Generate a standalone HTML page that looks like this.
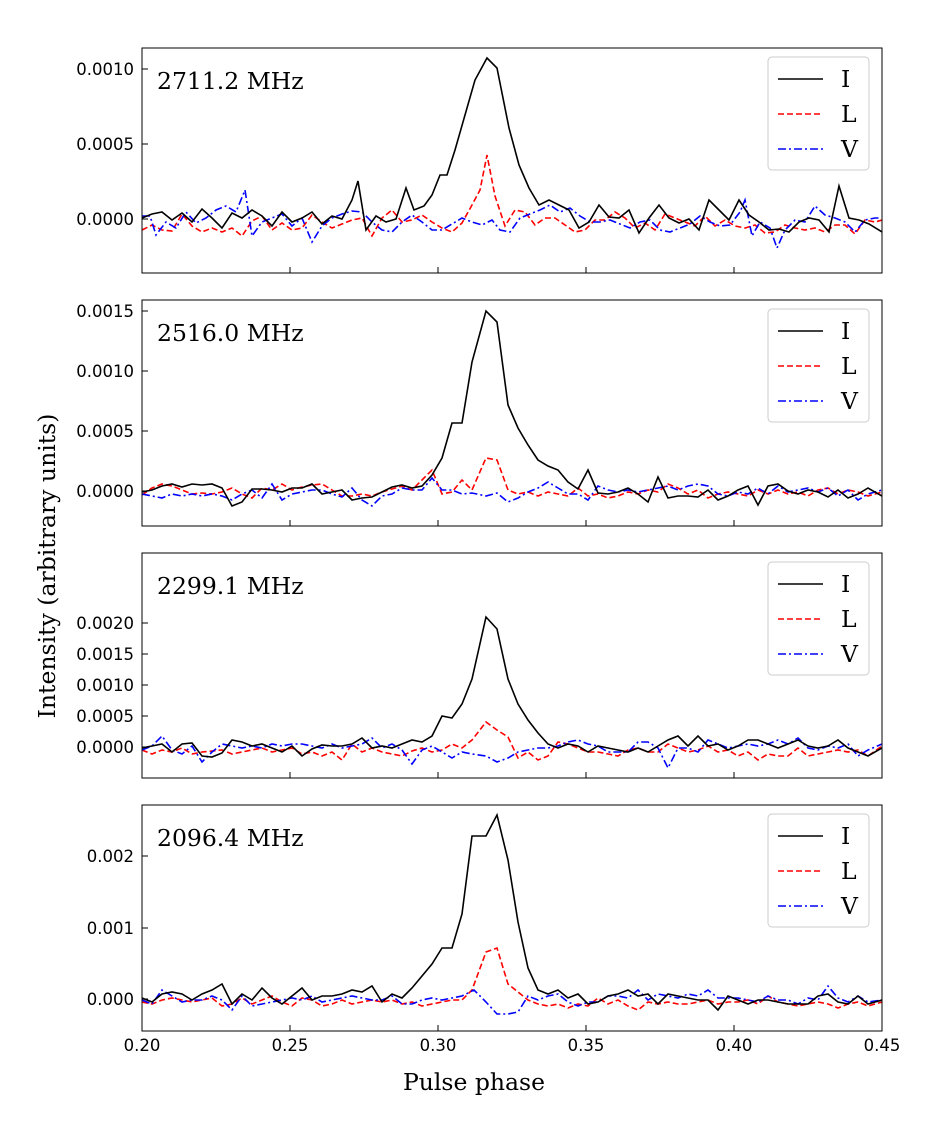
<!DOCTYPE html>
<html><head><meta charset="utf-8">
<style>
html,body{margin:0;padding:0;background:#fff;}
svg{display:block;}
.tk{font-family:"DejaVu Sans","Liberation Sans",sans-serif;font-size:16.5px;fill:#000;}
.sf{font-family:"DejaVu Serif","Liberation Serif",serif;fill:#000;font-size:23.5px;}
.I{fill:none;stroke:#000;stroke-width:1.6;}
.L{fill:none;stroke:#f00;stroke-width:1.6;stroke-dasharray:6,3;}
.V{fill:none;stroke:#00f;stroke-width:1.6;stroke-dasharray:8,3,2,3;}
.ax{fill:none;stroke:#000;stroke-width:1;}
.lg{fill:#fff;stroke:#ccc;stroke-width:1;}
</style></head><body>
<svg width="947" height="1136" xmlns="http://www.w3.org/2000/svg">
<defs>
<clipPath id="c1"><rect x="142" y="48" width="740" height="225"/></clipPath>
<clipPath id="c2"><rect x="142" y="300" width="740" height="226"/></clipPath>
<clipPath id="c3"><rect x="142" y="553" width="740" height="225"/></clipPath>
<clipPath id="c4"><rect x="142" y="805" width="740" height="226"/></clipPath>
</defs>

<!-- Panel 1 -->
<g clip-path="url(#c1)">
<polyline class="L" points="142,230 152,225 162,230 172,231 182,214 192,226 202,232 212,228 222,232 232,228 242,236 252,221 262,216 272,230 282,223 292,230 302,228 312,215 322,222 332,228 342,224 352,220 362,218 372,236 382,218 392,210 402,222 412,220 422,215 432,222 442,228 452,232 462,223 472,205 480,190 487,155 495,196 505,226 515,210 525,212 535,225 545,218 555,218 565,225 575,232 585,230 595,220 605,220 615,212 625,218 635,228 645,223 655,230 665,214 675,218 685,222 695,226 705,216 715,226 725,220 735,226 745,228 755,225 765,233 775,232 785,225 795,228 805,230 815,228 825,232 835,225 845,225 855,234 865,220 875,222 882,220"/>
<polyline class="V" points="142,216 150,216 156,235 166,222 176,228 186,212 196,223 206,218 216,210 226,206 236,212 245,190 252,236 262,222 272,218 282,214 292,226 302,218 312,242 322,226 332,218 342,214 352,211 362,212 372,222 382,230 392,232 402,222 412,215 422,222 432,230 442,230 452,224 462,218 472,222 482,225 492,220 500,230 510,232 520,218 530,214 540,210 550,205 560,212 570,208 580,216 590,222 600,222 610,220 620,224 630,228 640,222 650,220 660,230 670,232 680,228 690,224 700,216 710,222 720,226 730,225 740,212 745,200 752,236 760,222 770,228 777,248 785,230 795,220 805,222 815,206 825,215 835,218 845,222 855,232 865,220 875,218 882,218"/>
<polyline class="I" points="142,218 152,214 162,212 172,220 182,213 192,222 202,209 212,218 222,228 232,213 242,218 252,210 262,216 272,226 282,212 292,222 302,218 312,212 322,224 332,216 342,219 352,200 358,181 366,230 376,216 386,222 396,219 406,188 414,210 424,206 432,195 440,175 447,175 455,150 465,115 475,80 487,58 497,68 509,128 519,165 529,188 539,205 549,200 559,205 569,210 579,228 589,222 599,205 609,217 619,218 629,210 639,233 649,218 659,205 669,218 679,223 689,219 699,230 709,200 719,210 729,220 739,200 749,215 759,222 769,230 779,229 789,232 799,222 809,218 819,220 829,232 839,186 849,218 859,220 869,224 882,232"/>
</g>
<rect class="ax" x="142" y="48" width="740" height="225"/>
<line x1="142" x2="148" y1="219" y2="219" stroke="#000"/><text class="tk" x="134" y="225" text-anchor="end">0.0000</text>
<line x1="142" x2="148" y1="144" y2="144" stroke="#000"/><text class="tk" x="134" y="150" text-anchor="end">0.0005</text>
<line x1="142" x2="148" y1="69" y2="69" stroke="#000"/><text class="tk" x="134" y="75" text-anchor="end">0.0010</text>
<g stroke="#000"><line x1="290" x2="290" y1="273" y2="267"/><line x1="438" x2="438" y1="273" y2="267"/><line x1="586" x2="586" y1="273" y2="267"/><line x1="734" x2="734" y1="273" y2="267"/></g>
<text class="sf" x="157" y="89">2711.2 MHz</text>
<rect class="lg" x="768" y="57" width="101" height="113" rx="4"/>
<line x1="778" x2="823" y1="79" y2="79" class="I"/><text class="sf" x="841" y="87">I</text>
<line x1="778" x2="823" y1="114" y2="114" class="L"/><text class="sf" x="841" y="122">L</text>
<line x1="778" x2="823" y1="149" y2="149" class="V"/><text class="sf" x="841" y="157">V</text>

<!-- Panel 2 -->
<g clip-path="url(#c2)">
<polyline class="L" points="142,495 152,488 162,484 172,486 182,490 192,494 202,493 212,494 222,492 232,488 242,494 252,498 262,488 272,490 282,484 292,490 302,487 312,485 322,484 332,490 342,496 352,496 362,494 372,496 382,492 392,489 402,486 412,490 422,480 432,470 442,494 452,492 462,480 472,490 486,458 497,460 508,490 518,494 528,492 538,496 548,492 558,494 568,496 578,488 588,496 598,494 608,498 618,496 628,492 638,494 648,490 658,492 668,484 678,488 688,494 698,490 708,498 718,494 728,492 738,494 748,496 758,490 768,494 778,490 788,494 798,492 808,496 818,490 828,488 838,494 848,490 858,492 868,496 882,492"/>
<polyline class="V" points="142,494 152,496 162,498 172,494 182,496 192,494 202,496 212,494 222,496 232,500 242,494 252,490 262,498 272,484 282,500 292,494 302,492 312,490 322,490 332,494 342,497 352,488 362,500 372,506 382,496 392,494 402,488 412,490 422,490 432,478 442,490 452,490 462,494 472,493 486,496 497,493 508,502 518,498 528,492 538,488 548,482 558,488 568,494 578,494 588,500 598,486 608,490 618,492 628,490 638,492 648,490 658,488 668,486 678,490 688,486 698,484 708,486 718,494 728,496 738,492 748,494 758,488 768,494 778,486 788,492 798,490 808,488 818,492 828,488 838,496 848,490 858,500 868,494 882,490"/>
<polyline class="I" points="142,492 152,490 162,486 172,484 182,487 192,484 202,485 212,484 222,488 232,506 242,502 252,489 262,489 272,490 282,492 292,488 302,488 312,484 322,494 332,492 342,490 352,500 362,498 372,497 382,492 392,487 402,485 412,488 422,486 432,475 442,458 452,423 462,423 472,362 486,311 497,322 508,405 518,428 528,445 538,460 548,466 558,470 568,482 578,489 588,470 598,493 608,494 618,492 628,488 638,494 648,502 658,477 668,498 678,496 688,496 698,497 708,490 718,500 728,496 738,490 748,486 758,505 768,486 778,484 788,491 798,494 808,490 818,492 828,497 838,490 848,498 858,494 868,488 882,496"/>
</g>
<rect class="ax" x="142" y="300" width="740" height="226"/>
<line x1="142" x2="148" y1="491" y2="491" stroke="#000"/><text class="tk" x="134" y="497" text-anchor="end">0.0000</text>
<line x1="142" x2="148" y1="431" y2="431" stroke="#000"/><text class="tk" x="134" y="437" text-anchor="end">0.0005</text>
<line x1="142" x2="148" y1="371" y2="371" stroke="#000"/><text class="tk" x="134" y="377" text-anchor="end">0.0010</text>
<line x1="142" x2="148" y1="311" y2="311" stroke="#000"/><text class="tk" x="134" y="317" text-anchor="end">0.0015</text>
<g stroke="#000"><line x1="290" x2="290" y1="526" y2="520"/><line x1="438" x2="438" y1="526" y2="520"/><line x1="586" x2="586" y1="526" y2="520"/><line x1="734" x2="734" y1="526" y2="520"/></g>
<text class="sf" x="157" y="341">2516.0 MHz</text>
<rect class="lg" x="768" y="309" width="101" height="113" rx="4"/>
<line x1="778" x2="823" y1="331" y2="331" class="I"/><text class="sf" x="841" y="339">I</text>
<line x1="778" x2="823" y1="366" y2="366" class="L"/><text class="sf" x="841" y="374">L</text>
<line x1="778" x2="823" y1="401" y2="401" class="V"/><text class="sf" x="841" y="409">V</text>

<!-- Panel 3 -->
<g clip-path="url(#c3)">
<polyline class="L" points="142,750 152,754 162,750 172,752 182,748 192,754 202,752 212,751 222,750 232,754 242,752 252,750 262,748 272,752 282,750 292,748 302,754 312,752 322,756 332,752 342,760 352,744 362,752 372,748 382,752 392,754 402,756 412,751 422,748 432,752 442,750 452,744 462,748 472,740 486,722 497,730 508,737 518,758 528,752 538,760 548,756 558,742 568,744 578,748 588,752 598,752 608,754 618,756 628,750 638,748 648,752 658,752 668,744 678,748 688,752 698,750 708,746 718,752 728,750 738,756 748,752 758,760 768,754 778,756 788,756 798,748 808,756 818,754 828,752 838,750 848,752 858,750 868,756 882,746"/>
<polyline class="V" points="142,750 152,746 162,736 172,750 182,754 192,746 202,762 212,752 222,744 232,746 242,748 252,746 262,748 272,744 282,746 292,744 302,744 312,746 322,748 332,744 342,748 352,746 362,744 372,738 382,748 392,744 402,750 412,764 422,750 432,746 442,752 452,758 462,752 472,754 486,756 497,762 508,758 518,752 528,750 538,748 548,748 558,746 568,742 578,740 588,744 598,746 608,752 618,752 628,752 638,742 648,742 658,748 668,768 678,748 688,748 698,752 708,740 718,744 728,748 738,746 748,744 758,746 768,744 778,740 788,744 798,738 808,748 818,750 828,746 838,748 848,744 858,756 868,750 882,744"/>
<polyline class="I" points="142,748 152,746 162,744 172,752 182,744 192,743 202,756 212,757 222,753 232,740 242,742 252,746 262,744 272,748 282,752 292,746 302,756 312,749 322,745 332,746 342,746 352,744 362,738 372,748 382,746 392,748 402,744 412,740 422,742 432,736 442,716 452,718 462,704 472,679 486,617 497,629 508,679 518,704 528,720 538,733 548,744 558,748 568,744 578,746 588,752 598,746 608,748 618,750 628,752 638,748 648,752 658,746 668,740 678,736 688,746 698,736 708,746 718,744 728,750 738,746 748,740 758,740 768,744 778,748 788,744 798,740 808,746 818,748 828,746 838,740 848,748 858,752 868,756 882,748"/>
</g>
<rect class="ax" x="142" y="553" width="740" height="225"/>
<line x1="142" x2="148" y1="747" y2="747" stroke="#000"/><text class="tk" x="134" y="753" text-anchor="end">0.0000</text>
<line x1="142" x2="148" y1="716" y2="716" stroke="#000"/><text class="tk" x="134" y="722" text-anchor="end">0.0005</text>
<line x1="142" x2="148" y1="685" y2="685" stroke="#000"/><text class="tk" x="134" y="691" text-anchor="end">0.0010</text>
<line x1="142" x2="148" y1="654" y2="654" stroke="#000"/><text class="tk" x="134" y="660" text-anchor="end">0.0015</text>
<line x1="142" x2="148" y1="623" y2="623" stroke="#000"/><text class="tk" x="134" y="629" text-anchor="end">0.0020</text>
<g stroke="#000"><line x1="290" x2="290" y1="778" y2="772"/><line x1="438" x2="438" y1="778" y2="772"/><line x1="586" x2="586" y1="778" y2="772"/><line x1="734" x2="734" y1="778" y2="772"/></g>
<text class="sf" x="157" y="594">2299.1 MHz</text>
<rect class="lg" x="768" y="562" width="101" height="113" rx="4"/>
<line x1="778" x2="823" y1="584" y2="584" class="I"/><text class="sf" x="841" y="592">I</text>
<line x1="778" x2="823" y1="619" y2="619" class="L"/><text class="sf" x="841" y="627">L</text>
<line x1="778" x2="823" y1="654" y2="654" class="V"/><text class="sf" x="841" y="662">V</text>

<!-- Panel 4 -->
<g clip-path="url(#c4)">
<polyline class="L" points="142,1002 152,1004 162,1000 172,998 182,1000 192,1002 202,1000 212,998 222,1006 232,1004 242,998 252,1004 262,1000 272,996 282,1002 292,1006 302,998 312,1000 322,1006 332,1004 342,1000 352,1004 362,1002 372,1000 382,1002 392,1000 402,1004 412,1002 422,1006 432,1004 442,1002 452,1000 462,1000 472,990 486,952 497,948 508,984 518,992 528,1000 538,1004 548,1006 558,1004 568,1008 578,1004 588,1006 598,998 608,1004 618,1000 628,1006 638,1010 648,1002 658,1004 668,1002 678,1004 688,1004 698,1002 708,1000 718,1004 728,1002 738,1002 748,1000 758,1004 768,996 778,1002 788,1004 798,1006 808,1004 818,1002 828,1004 838,1008 848,1004 858,1002 868,1006 882,1002"/>
<polyline class="V" points="142,1000 152,1004 162,990 172,996 182,1002 192,1000 202,1000 212,996 222,1000 232,1010 242,996 252,1006 262,1004 272,1002 282,1000 292,998 302,1000 312,996 322,1002 332,1000 342,998 352,996 362,998 372,1000 382,1000 392,996 402,1004 412,1004 422,1000 432,998 442,1000 452,998 462,996 474,990 486,1002 497,1014 508,1014 518,1012 528,996 538,1000 548,996 558,994 568,1002 578,1006 588,1002 598,1002 608,996 618,996 628,998 638,990 648,1000 658,994 668,996 678,998 688,994 698,996 708,990 718,998 728,998 738,998 748,1000 758,1002 768,996 778,1000 788,1000 798,1004 808,998 818,1000 828,986 838,998 848,1002 858,996 868,1002 882,1000"/>
<polyline class="I" points="142,998 152,1002 162,994 172,992 182,994 192,1000 202,994 212,990 222,984 232,1004 242,994 252,1000 262,988 272,998 282,1004 292,996 302,988 312,1000 322,996 332,996 342,994 352,990 362,992 372,986 382,1002 392,994 402,998 412,988 422,976 432,964 442,948 452,948 462,914 472,836 486,836 497,815 508,860 518,922 528,968 538,990 548,994 558,990 568,998 578,994 588,1004 598,1002 608,996 618,994 628,990 638,996 648,994 658,1004 668,994 678,996 688,998 698,1000 708,1000 718,1010 728,996 738,1000 748,1004 758,1000 768,1000 778,1002 788,1004 798,1004 808,1004 818,996 828,994 838,1002 848,1004 858,996 868,1004 882,1000"/>
</g>
<rect class="ax" x="142" y="805" width="740" height="226"/>
<line x1="142" x2="148" y1="999" y2="999" stroke="#000"/><text class="tk" x="134" y="1005" text-anchor="end">0.000</text>
<line x1="142" x2="148" y1="928" y2="928" stroke="#000"/><text class="tk" x="134" y="934" text-anchor="end">0.001</text>
<line x1="142" x2="148" y1="856" y2="856" stroke="#000"/><text class="tk" x="134" y="862" text-anchor="end">0.002</text>
<g stroke="#000"><line x1="290" x2="290" y1="1031" y2="1025"/><line x1="438" x2="438" y1="1031" y2="1025"/><line x1="586" x2="586" y1="1031" y2="1025"/><line x1="734" x2="734" y1="1031" y2="1025"/></g>
<text class="sf" x="157" y="846">2096.4 MHz</text>
<rect class="lg" x="768" y="814" width="101" height="113" rx="4"/>
<line x1="778" x2="823" y1="836" y2="836" class="I"/><text class="sf" x="841" y="844">I</text>
<line x1="778" x2="823" y1="871" y2="871" class="L"/><text class="sf" x="841" y="879">L</text>
<line x1="778" x2="823" y1="906" y2="906" class="V"/><text class="sf" x="841" y="914">V</text>

<!-- x labels -->
<text class="tk" x="142" y="1051" text-anchor="middle">0.20</text>
<text class="tk" x="290" y="1051" text-anchor="middle">0.25</text>
<text class="tk" x="438" y="1051" text-anchor="middle">0.30</text>
<text class="tk" x="586" y="1051" text-anchor="middle">0.35</text>
<text class="tk" x="734" y="1051" text-anchor="middle">0.40</text>
<text class="tk" x="882" y="1051" text-anchor="middle">0.45</text>
<text class="sf" x="474" y="1090" text-anchor="middle">Pulse phase</text>
<text class="sf" transform="translate(55,566) rotate(-90)" text-anchor="middle">Intensity (arbitrary units)</text>
</svg>
</body></html>
